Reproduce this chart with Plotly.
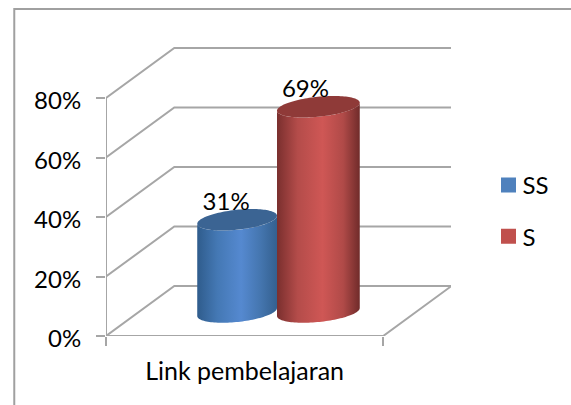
import numpy as np
import plotly.graph_objects as go

categories = ["Link pembelajaran"]
series_names = ["SS", "S"]
series_values = [0.31, 0.69]
value_labels = ["31%", "69%"]
y_ticks = [0, 0.2, 0.4, 0.6, 0.8]
y_tick_labels = ["0%", "20%", "40%", "60%", "80%"]

# layout constants
L, R, T, B = 106, 119, 47, 69
W, H = 571, 405
PX_X = 278.0      # pixels per x unit
PX_Y = 297.5      # pixels per y unit
DX, DY = 68.5 / PX_X, 50 / PX_Y  # 3-D depth offset
FONT = "Lato"
GRID = "#a6a6a6"
GW = 2

centers = [(237.5 - L) / PX_X, (319 - L) / PX_X]
radii = [40 / PX_X, 41.5 / PX_X]
base_y = 24 / PX_Y
ry = 10 / PX_Y
shear = 4 / PX_Y
label_dx = [-11 / PX_X, -13 / PX_X]
label_dy = 15.5 / PX_Y
side_scales = [
    [[0, "#2f5c8c"], [0.25, "#4478b4"], [0.55, "#5589d0"], [0.8, "#4475ae"], [1, "#34608f"]],
    [[0, "#7a2f2e"], [0.25, "#b44c4a"], [0.55, "#cf5755"], [0.8, "#b04a48"], [1, "#702b2a"]],
]
top_colors = ["#3b6493", "#8f3a38"]
legend_colors = ["#4f81bd", "#c0504d"]

fig = go.Figure()


def line(xs, ys):
    fig.add_trace(go.Scatter(x=xs, y=ys, mode="lines", showlegend=False, hoverinfo="skip",
                             cliponaxis=False, line=dict(color=GRID, width=GW)))


# walls and floor
for v in y_ticks:
    line([0, DX, DX + 1], [v, v + DY, v + DY])
line([0, 0], [0, y_ticks[-1]])
line([0, 1, 1 + DX], [0, 0, DY])

# cylinders
for i, (name, v) in enumerate(zip(series_names, series_values)):
    c, r = centers[i], radii[i]
    top = base_y + v
    t_low = np.linspace(np.pi, 0, 60)      # front of the base, left to right
    t_up = np.linspace(0, np.pi, 60)       # front of the top, right to left
    xs = np.concatenate([c + r * np.cos(t_low), c + r * np.cos(t_up)])
    ys = np.concatenate([base_y + shear * np.cos(t_low) - ry * np.sin(t_low),
                         top + shear * np.cos(t_up) - ry * np.sin(t_up)])
    fig.add_trace(go.Scatter(
        x=xs, y=ys, mode="none", fill="toself", showlegend=False, hoverinfo="skip",
        fillgradient=dict(type="horizontal", colorscale=side_scales[i],
                          start=c - r, stop=c + r)))
    t = np.linspace(0, 2 * np.pi, 120)
    fig.add_trace(go.Scatter(
        x=c + r * np.cos(t), y=top + shear * np.cos(t) + ry * np.sin(t),
        mode="none", fill="toself", fillcolor=top_colors[i],
        showlegend=False, hoverinfo="skip"))

# value labels
fig.add_trace(go.Scatter(
    x=[c + d for c, d in zip(centers, label_dx)],
    y=[base_y + v + label_dy for v in series_values],
    mode="text", text=value_labels, textposition="middle center",
    textfont=dict(family=FONT, size=24, color="#000000"),
    showlegend=False, hoverinfo="skip", cliponaxis=False))

# legend entries
for i, name in enumerate(series_names):
    fig.add_trace(go.Scatter(
        x=[None], y=[None], mode="markers", name=name, legendgroup=name,
        marker=dict(symbol="square", size=15, color=legend_colors[i])))

fig.update_layout(
    width=W, height=H, autosize=False,
    margin=dict(l=L, r=R, t=T, b=B, pad=0),
    paper_bgcolor="#ffffff", plot_bgcolor="#ffffff",
    font=dict(family=FONT, size=24, color="#000000"),
    hovermode=False,
    legend=dict(x=(494.5 - L) / (W - L - R), y=1 - (163 - T) / (H - T - B),
                xanchor="left", yanchor="top", tracegroupgap=17, indentation=-6,
                bgcolor="rgba(0,0,0,0)", font=dict(family=FONT, size=24)),
    xaxis=dict(range=[0, (W - L - R) / PX_X], tickmode="array", tickvals=[0.5],
               ticktext=categories, ticks="", showgrid=False, zeroline=False,
               showline=False, ticklabelstandoff=18, fixedrange=True,
               tickfont=dict(family=FONT, size=25),
               minor=dict(tickmode="array", tickvals=[0, 1], ticks="outside",
                          ticklen=9, tickwidth=2, tickcolor=GRID, showgrid=False)),
    yaxis=dict(range=[0, (H - T - B) / PX_Y], tickmode="array", tickvals=y_ticks,
               ticktext=y_tick_labels, ticks="outside", ticklen=9, tickwidth=2,
               tickcolor=GRID, showgrid=False, zeroline=False, showline=False,
               ticklabelstandoff=10, ticklabelshift=3, fixedrange=True),
    shapes=[dict(type="path", xref="paper", yref="paper",
                 path="M %f %f L %f %f L %f %f" % (
                     (14 - L) / (W - L - R), 1 - (H + 2 - T) / (H - T - B),
                     (14 - L) / (W - L - R), 1 - (9 - T) / (H - T - B),
                     (W + 2 - L) / (W - L - R), 1 - (9 - T) / (H - T - B)),
                 line=dict(color="#a0a0a0", width=2))],
)

fig.write_html("out.html", config={"displayModeBar": False},
               post_script="document.body.style.margin='0';document.body.style.overflow='hidden';"
                           "document.querySelectorAll('.legendtext').forEach(function(t){"
                           "t.setAttribute('transform','translate(-6,0)');});")
